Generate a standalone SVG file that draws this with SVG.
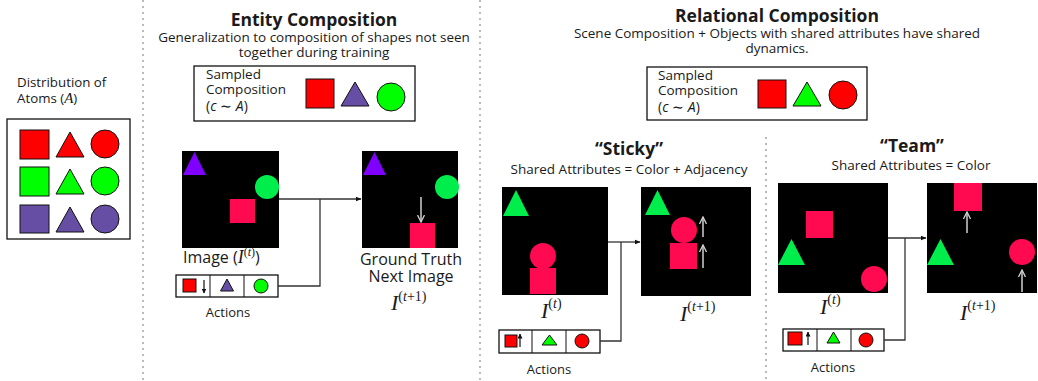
<svg xmlns="http://www.w3.org/2000/svg" width="1038" height="381" viewBox="0 0 1038 381">
<defs>
<marker id="ah" markerWidth="6" markerHeight="6" refX="5.5" refY="3" orient="auto" markerUnits="userSpaceOnUse"><path d="M0,0.6 L6,3 L0,5.4 z" fill="#111"/></marker>
<marker id="wh" markerWidth="8" markerHeight="8" refX="7" refY="4" orient="auto" markerUnits="userSpaceOnUse"><path d="M0,0.5 L7,4 L0,7.5" fill="none" stroke="#d0d0d0" stroke-width="1.3"/></marker>
<marker id="bh" markerWidth="5" markerHeight="5" refX="4.5" refY="2.5" orient="auto" markerUnits="userSpaceOnUse"><path d="M0,0 L5,2.5 L0,5 z" fill="#111"/></marker>
</defs>
<style>
text{font-family:"Open Sans","Liberation Sans",sans-serif;fill:#1a1a1a}
.t{font-size:17.5px;font-weight:bold;text-anchor:middle}
.s{font-size:13.5px}
.a{font-size:13px;text-anchor:middle}
.c{text-anchor:middle}
.m{font-family:"Liberation Serif",serif;font-style:italic}
.up{font-style:normal}
.sep{stroke:#bbb;stroke-width:2;stroke-dasharray:2 4}
.box{fill:#fff;stroke:#111;stroke-width:1.3}
.img{fill:#000}
.con{fill:none;stroke:#333;stroke-width:1.3}
.ol{stroke:#111;stroke-width:1}
.pk{fill:#ff0a50}
.gn{fill:#00ee4c}
.pu{fill:#8000ff}
.wa{stroke:#d0d0d0;stroke-width:1.5;fill:none}
.ba{stroke:#111;stroke-width:1.2;fill:none}
</style>

<g id="separators">
<line class="sep" x1="143" y1="0" x2="143" y2="381"/>
<line class="sep" x1="480" y1="0" x2="480" y2="381"/>
<line class="sep" x1="766" y1="137" x2="766" y2="381"/>
</g>

<g id="atoms">
<text x="17" y="87" font-size="13.3">Distribution of</text>
<text x="17" y="103" font-size="13.3">Atoms (<tspan class="m" font-size="15">A</tspan>)</text>
<rect class="box" x="7" y="119" width="123" height="120"/>
<rect class="ol" x="20" y="130" width="29" height="29" fill="#ff0000"/>
<polygon class="ol" points="70,132 56,157 84,157" fill="#ff0000"/>
<circle class="ol" cx="105" cy="144" r="14" fill="#ff0000"/>
<rect class="ol" x="20" y="167" width="29" height="29" fill="#00ff00"/>
<polygon class="ol" points="70,169 56,194 84,194" fill="#00ff00"/>
<circle class="ol" cx="105" cy="181" r="14" fill="#00ff00"/>
<rect class="ol" x="20" y="205" width="29" height="28" fill="#654ea3"/>
<polygon class="ol" points="70,207 56,232 84,232" fill="#654ea3"/>
<circle class="ol" cx="105" cy="219" r="14" fill="#654ea3"/>
</g>

<g id="entity-header">
<text class="t" x="314" y="26">Entity Composition</text>
<text class="s c" x="314" y="42">Generalization to composition of shapes not seen</text>
<text class="s c" x="314" y="57">together during training</text>
</g>

<g id="entity-sampled">
<rect class="box" x="194" y="66" width="221" height="55"/>
<text class="s" x="206" y="79">Sampled</text>
<text class="s" x="206" y="94">Composition</text>
<text x="206" y="111" font-family="Liberation Serif, serif" font-size="14">(<tspan font-style="italic">c</tspan> ∼ <tspan font-style="italic">A</tspan>)</text>
<rect class="ol" x="306" y="79" width="28" height="29" fill="#ff0000"/>
<polygon class="ol" points="355,82 341,106 369,106" fill="#654ea3"/>
<circle class="ol" cx="391" cy="97" r="14" fill="#00ff00"/>
</g>

<g id="entity-image-t">
<rect class="img" x="182" y="151" width="97" height="97"/>
<polygon class="pu" points="194.5,152 183,175 206,175"/>
<circle class="gn" cx="267" cy="187" r="12"/>
<rect class="pk" x="230" y="199" width="25" height="24"/>
<text x="183" y="263" font-size="16">Image (<tspan class="m" font-size="18">I</tspan><tspan font-size="12" dy="-7" font-family="Liberation Serif, serif">(<tspan font-style="italic">t</tspan>)</tspan><tspan dy="7">)</tspan></text>
</g>

<g id="entity-actions">
<rect class="box" x="176" y="275" width="102" height="22"/>
<line class="ol" x1="210" y1="275" x2="210" y2="297"/>
<line class="ol" x1="244" y1="275" x2="244" y2="297"/>
<rect class="ol" x="183" y="279" width="13" height="13" fill="#ff0000"/>
<line class="ba" x1="204" y1="280" x2="204" y2="293" marker-end="url(#bh)"/>
<polygon class="ol" points="227,279 220.5,291 233.5,291" fill="#654ea3"/>
<circle class="ol" cx="261" cy="286" r="7" fill="#00ff00"/>
<text class="a" x="228" y="317">Actions</text>
</g>

<g id="entity-image-t1">
<rect class="img" x="362" y="151" width="96" height="97"/>
<polygon class="pu" points="374.5,152 363,175 386,175"/>
<circle class="gn" cx="447" cy="187" r="12"/>
<rect class="pk" x="410" y="223" width="25" height="25"/>
<line class="wa" x1="421" y1="197" x2="421" y2="222" marker-end="url(#wh)"/>
<text class="c" x="411" y="265" font-size="16">Ground Truth</text>
<text class="c" x="411" y="282" font-size="16">Next Image</text>
<text class="m" x="391" y="310" font-size="22">I<tspan class="up" font-size="14" dy="-9">(<tspan font-style="italic">t</tspan>+1)</tspan></text>
</g>

<g id="relational-header">
<text class="t" x="777" y="22">Relational Composition</text>
<text class="s c" x="777" y="38">Scene Composition + Objects with shared attributes have shared</text>
<text class="s c" x="777" y="53">dynamics.</text>
</g>

<g id="relational-sampled">
<rect class="box" x="647" y="67" width="220" height="53"/>
<text class="s" x="658" y="80">Sampled</text>
<text class="s" x="658" y="95">Composition</text>
<text x="658" y="112" font-family="Liberation Serif, serif" font-size="14">(<tspan font-style="italic">c</tspan> ∼ <tspan font-style="italic">A</tspan>)</text>
<rect class="ol" x="758" y="80" width="28" height="28" fill="#ff0000"/>
<polygon class="ol" points="807,82 793,106 821,106" fill="#00ff00"/>
<circle class="ol" cx="843" cy="95" r="14" fill="#ff0000"/>
</g>

<g id="sticky-header">
<text class="t" x="629" y="155">“Sticky”</text>
<text class="s c" x="629" y="174">Shared Attributes = Color + Adjacency</text>
</g>

<g id="sticky-image-t">
<rect class="img" x="502" y="187" width="106" height="108"/>
<polygon class="gn" points="516,190 503,216 529,216"/>
<circle class="pk" cx="543" cy="256" r="13"/>
<rect class="pk" x="530" y="268" width="26" height="26"/>
<text class="m" x="541" y="318" font-size="22">I<tspan class="up" font-size="14" dy="-10">(<tspan font-style="italic">t</tspan>)</tspan></text>
</g>

<g id="sticky-actions">
<rect class="box" x="499" y="330" width="101" height="23"/>
<line class="ol" x1="532" y1="330" x2="532" y2="353"/>
<line class="ol" x1="566" y1="330" x2="566" y2="353"/>
<rect class="ol" x="505" y="335" width="12" height="12" fill="#ff0000"/>
<line class="ba" x1="520" y1="347" x2="520" y2="334" marker-end="url(#bh)"/>
<polygon class="ol" points="549.5,335 542,345 557,345" fill="#00ff00"/>
<circle class="ol" cx="582" cy="341" r="7" fill="#ff0000"/>
<text class="a" x="549" y="374">Actions</text>
</g>

<g id="sticky-image-t1">
<rect class="img" x="641" y="187" width="110" height="109"/>
<polygon class="gn" points="657.5,190 645,215 670,215"/>
<circle class="pk" cx="684" cy="230" r="13"/>
<rect class="pk" x="670" y="243" width="27" height="26"/>
<line class="wa" x1="703" y1="237" x2="703" y2="217" marker-end="url(#wh)"/>
<line class="wa" x1="703" y1="268" x2="703" y2="245" marker-end="url(#wh)"/>
<text class="m" x="680" y="321" font-size="22">I<tspan class="up" font-size="14" dy="-10">(<tspan font-style="italic">t</tspan>+1)</tspan></text>
</g>

<g id="team-header">
<text class="t" x="912" y="152">“Team”</text>
<text class="s c" x="911" y="170">Shared Attributes = Color</text>
</g>

<g id="team-image-t">
<rect class="img" x="778" y="183" width="110" height="110"/>
<rect class="pk" x="806" y="211" width="27" height="27"/>
<polygon class="gn" points="791.5,239 778,265 805,265"/>
<circle class="pk" cx="874" cy="279" r="13"/>
<text class="m" x="820" y="314" font-size="22">I<tspan class="up" font-size="14" dy="-10">(<tspan font-style="italic">t</tspan>)</tspan></text>
</g>

<g id="team-actions">
<rect class="box" x="783" y="329" width="101" height="22"/>
<line class="ol" x1="817" y1="329" x2="817" y2="351"/>
<line class="ol" x1="851" y1="329" x2="851" y2="351"/>
<rect class="ol" x="788" y="332" width="14" height="13" fill="#ff0000"/>
<line class="ba" x1="808" y1="345" x2="808" y2="332" marker-end="url(#bh)"/>
<polygon class="ol" points="833.5,332 827,343 840,343" fill="#00ff00"/>
<circle class="ol" cx="866" cy="340" r="7" fill="#ff0000"/>
<text class="a" x="833" y="372">Actions</text>
</g>

<g id="team-image-t1">
<rect class="img" x="927" y="183" width="110" height="110"/>
<rect class="pk" x="954" y="183" width="28" height="28"/>
<line class="wa" x1="967" y1="233" x2="967" y2="212" marker-end="url(#wh)"/>
<polygon class="gn" points="940.5,239 927,265 954,265"/>
<circle class="pk" cx="1022" cy="252" r="13"/>
<line class="wa" x1="1022" y1="292" x2="1022" y2="270" marker-end="url(#wh)"/>
<text class="m" x="960" y="320" font-size="22">I<tspan class="up" font-size="14" dy="-10">(<tspan font-style="italic">t</tspan>+1)</tspan></text>
</g>

<g id="connectors">
<path class="con" d="M279,199 H361" marker-end="url(#ah)"/>
<path class="con" d="M278,286 H320 V199"/>
<path class="con" d="M608,242 H640" marker-end="url(#ah)"/>
<path class="con" d="M600,341 H621 V242"/>
<path class="con" d="M888,238 H926" marker-end="url(#ah)"/>
<path class="con" d="M884,340 H905 V238"/>
</g>
</svg>
